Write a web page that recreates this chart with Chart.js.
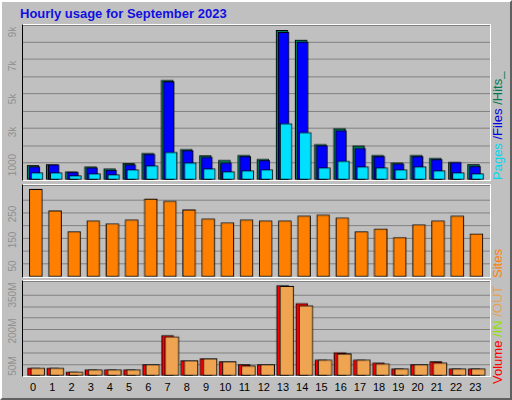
<!DOCTYPE html>
<html>
<head>
<meta charset="utf-8">
<script src="https://cdn.jsdelivr.net/npm/chart.js@4/dist/chart.umd.min.js"></script>
<style>
  body { margin: 0; background: #fff; }
  #frame { position: absolute; left: 0; top: 0; width: 508px; height: 396px; background: #c0c0c0;
           border: 2px solid; border-color: #fff #606060 #606060 #fff; font-family: "Liberation Sans", Arial, sans-serif; }
  .panel { position: absolute; left: 20px; width: 469px; border: 1px solid; border-color: #fff #fff #fff #000; }
  .title { position: absolute; left: 18px; top: 4px; color: #1010e0; font-weight: bold; font-size: 13px; }
  .xl { position: absolute; top: 379px; width: 20px; margin-left: -10px; text-align: center; font-size: 11px; color: #000; }
  .yl { position: absolute; left: 10px; width: 0; height: 0; }
  .yl span { position: absolute; transform: translate(-50%, -50%) rotate(-90deg); white-space: nowrap; font-size: 10px; color: #909090; }
  .rl { position: absolute; left: 496px; width: 0; height: 0; }
  .rot { position: absolute; transform-origin: 0 0; transform: rotate(-90deg); white-space: nowrap; font-size: 13px; left: -8px; }
</style>
</head>
<body>
<div id="frame">
  <div class="title">Hourly usage for September 2023</div>
  <canvas id="c1" class="panel" style="top:22px;height:157px"></canvas>
  <canvas id="c2" class="panel" style="top:182px;height:94px"></canvas>
  <canvas id="c3" class="panel" style="top:278px;height:97px"></canvas>
  <div class="rl" style="top:178px"><div class="rot"><span style="color:#00d8f0">Pages</span><span style="color:#0000e0"> /Files</span><span style="color:#007850"> /Hits_</span></div></div>
  <div class="rl" style="top:276px"><div class="rot" style="color:#ff8000">Sites</div></div>
  <div class="rl" style="top:382px"><div class="rot"><span style="color:#ff0000">Volume</span><span style="color:#90e000"> /IN</span><span style="color:#e8a050"> /OUT</span></div></div>
</div>
<script>
const hours = ['0','1','2','3','4','5','6','7','8','9','10','11','12','13','14','15','16','17','18','19','20','21','22','23'];
const hits  = [880, 940, 500, 800, 680, 1000, 1640, 6080, 1880, 1480, 1220, 1520, 1280, 9120, 8540, 2180, 3140, 2080, 1520, 1040, 1520, 1340, 1100, 940];
const files = [800, 920, 480, 740, 600, 920, 1580, 6000, 1800, 1400, 1040, 1440, 1200, 9000, 8420, 2100, 3020, 1940, 1440, 980, 1440, 1260, 1080, 840];
const pages = [440, 440, 260, 380, 320, 620, 860, 1700, 1040, 680, 500, 560, 620, 3440, 2900, 740, 1160, 800, 740, 620, 800, 560, 440, 380];
const sites = [342, 258, 177, 219, 208, 223, 304, 296, 262, 227, 212, 223, 219, 219, 238, 242, 231, 177, 188, 154, 204, 219, 238, 169];
const volIn  = [35, 35, 18, 27, 27, 27, 49, 176, 66, 75, 62, 49, 49, 392, 314, 70, 101, 70, 57, 31, 49, 62, 31, 31];
const volOut = [35, 35, 18, 27, 27, 27, 49, 170, 66, 75, 62, 44, 49, 388, 305, 70, 96, 70, 53, 31, 49, 57, 31, 31];
const hitsTicks = [[1000, '1000'], [3000, '3k'], [5000, '5k'], [7000, '7k'], [9000, '9k']];
const sitesTicks = [[50, '50'], [150, '150'], [250, '250']];
const volTicks = [[50, '50M'], [200, '200M'], [350, '350M']];

const frame = document.getElementById('frame');
hours.forEach((h, i) => {
  const d = document.createElement('div');
  d.className = 'xl';
  d.style.left = (31 + i * 19.23) + 'px';
  d.textContent = h;
  frame.appendChild(d);
});

function pts(vals, off) { return vals.map((v, i) => ({ x: i + off, y: v })); }

function makeChart(id, datasets, max, step, ticks, panelTop) {
  const canvas = document.getElementById(id);
  canvas.width = 469; canvas.height = parseInt(canvas.style.height);
  const chart = new Chart(canvas, {
    type: 'bar',
    data: { datasets: datasets },
    options: {
      responsive: false, animation: false,
      layout: { padding: 0 },
      plugins: { legend: { display: false }, tooltip: { enabled: false } },
      scales: {
        x: { type: 'linear', min: -0.64, max: 23.74, offset: false, display: false },
        y: { min: 0, max: max, display: true,
             ticks: { display: false, stepSize: step },
             grid: { color: '#808080', lineWidth: 1, drawTicks: false },
             border: { display: false } }
      }
    }
  });
  // rotated tick labels placed from the chart's own y scale
  ticks.forEach(([v, t]) => {
    const d = document.createElement('div');
    d.className = 'yl';
    d.style.top = (panelTop + 1 + chart.scales.y.getPixelForValue(v)) + 'px';
    d.innerHTML = '<span>' + t + '</span>';
    frame.appendChild(d);
  });
}

const bar = (data, color, w) => ({ data: data, backgroundColor: color, borderColor: '#000', borderWidth: 1, barThickness: w, grouped: false, borderSkipped: false });

makeChart('c1', [
  bar(pts(pages, 0.09), '#00e0ff', 12),
  bar(pts(files, -0.04), '#0000ff', 11),
  bar(pts(hits, -0.12), '#008060', 12)
], 9440, 1000, hitsTicks, 22);

makeChart('c2', [bar(pts(sites, 0.03), '#ff8000', 13)], 359, 50, sitesTicks, 182);

makeChart('c3', [
  bar(pts(volOut, 0.13), '#eea450', 14),
  bar(pts(volIn, -0.09), '#ff0000', 12)
], 411, 50, volTicks, 278);
</script>
</body>
</html>
